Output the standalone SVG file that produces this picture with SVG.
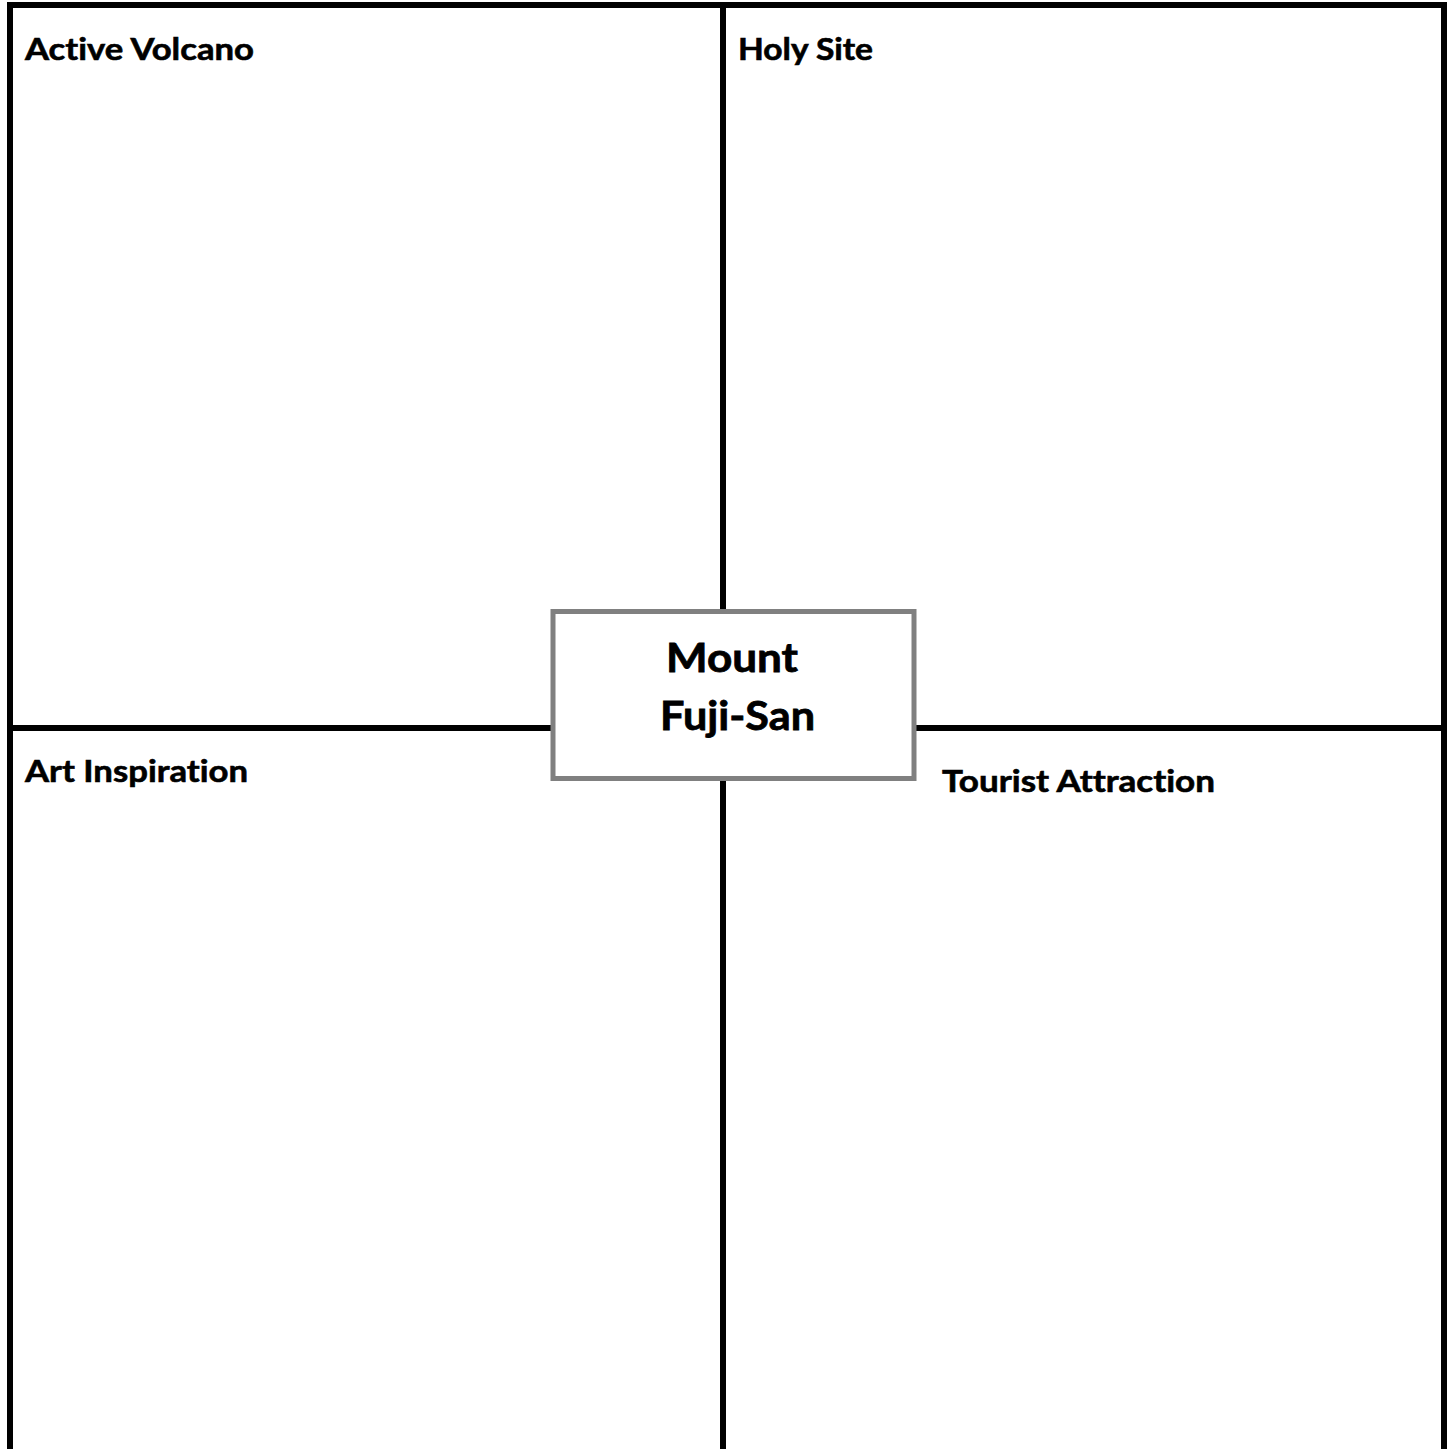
<svg xmlns="http://www.w3.org/2000/svg" width="1448" height="1449" viewBox="0 0 1448 1449">
<style>
.ln{stroke:#000;stroke-width:6;fill:none}
.lbl{font-family:Lato,"Open Sans","Liberation Sans",sans-serif;font-weight:bold;font-size:30px;fill:#000;stroke:#000;stroke-width:0.6;font-variant-ligatures:none}
.ctr{font-family:Lato,"Open Sans","Liberation Sans",sans-serif;font-weight:bold;font-size:41px;fill:#000;stroke:#000;stroke-width:0.8;text-anchor:middle;font-variant-ligatures:none}
</style>
<rect width="1448" height="1449" fill="#fff"/>
<g id="connectors">
<path class="ln" d="M10 1449 V5 H1444 V1449"/>
<path class="ln" d="M723 5 V1449"/>
<path class="ln" d="M10 728 H1444"/>
</g>
<g id="q1"><text class="lbl" x="25" y="60" textLength="229" lengthAdjust="spacingAndGlyphs">Active Volcano</text></g>
<g id="q2"><text class="lbl" x="738" y="60" textLength="135" lengthAdjust="spacingAndGlyphs">Holy Site</text></g>
<g id="q3"><text class="lbl" x="25" y="782" textLength="223" lengthAdjust="spacingAndGlyphs">Art Inspiration</text></g>
<g id="q4"><text class="lbl" x="942" y="792" textLength="273" lengthAdjust="spacingAndGlyphs">Tourist Attraction</text></g>
<g id="center">
<rect x="553" y="611.5" width="361" height="167" fill="#fff" stroke="#808080" stroke-width="5"/>
<text class="ctr" x="732" y="672" textLength="132" lengthAdjust="spacingAndGlyphs">Mount</text>
<text class="ctr" x="737.5" y="730" textLength="155" lengthAdjust="spacingAndGlyphs">Fuji-San</text>
</g>
</svg>
